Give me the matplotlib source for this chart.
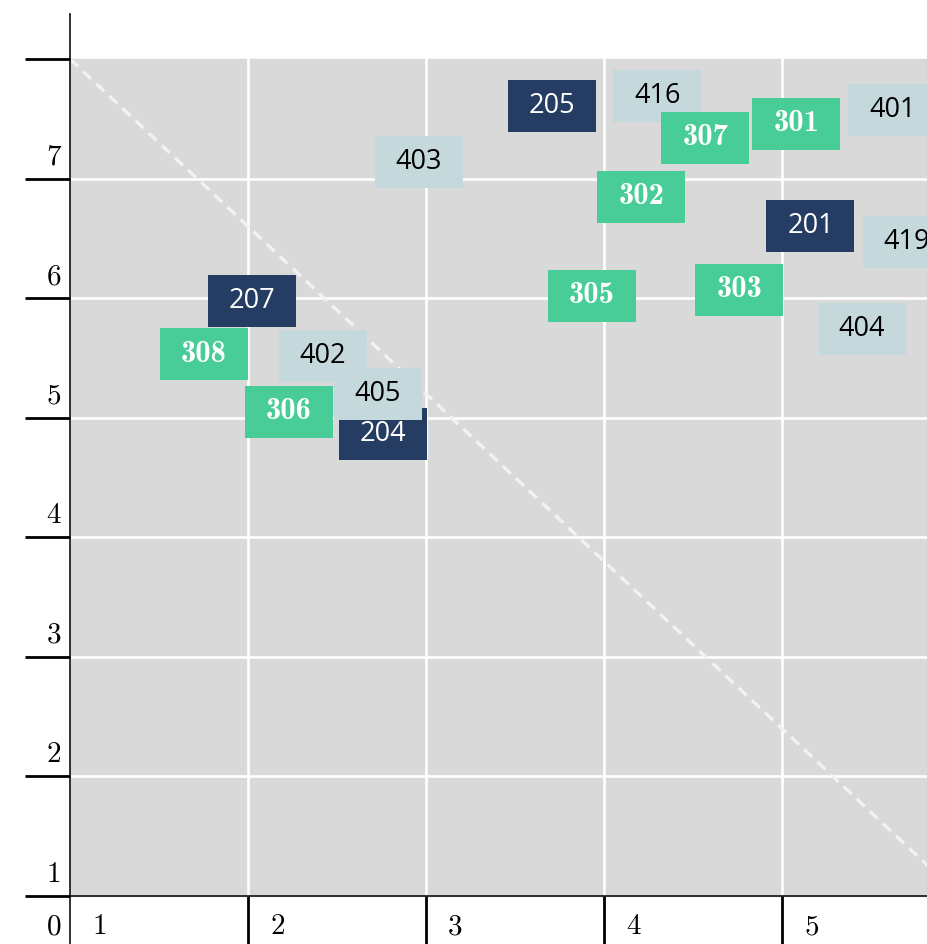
import numpy as np
from matplotlib import pyplot as plt
from matplotlib.patches import Rectangle

# room codes and their positions (x, y in chart units)
navy_codes = ['201', '204', '205', '207']
navy_x = [5.16, 2.76, 3.71, 2.02]
navy_y = [6.60, 4.86, 7.61, 5.98]

light_codes = ['401', '402', '403', '404', '405', '416', '419']
light_x = [5.62, 2.42, 2.96, 5.45, 2.73, 4.30, 5.70]
light_y = [7.57, 5.52, 7.14, 5.74, 5.20, 7.69, 6.47]

green_codes = ['301', '302', '303', '305', '306', '307', '308']
green_x = [5.08, 4.21, 4.76, 3.93, 2.23, 4.57, 1.75]
green_y = [7.46, 6.85, 6.07, 6.02, 5.05, 7.34, 5.53]

x_ticks = [1, 2, 3, 4, 5]
y_ticks = [1, 2, 3, 4, 5, 6, 7, 8]
x_labels = ['1', '2', '3', '4', '5']
y_labels = ['1', '2', '3', '4', '5', '6', '7']

W, H = 928, 945
px_x = 178.0    # pixels per x unit
px_y = 119.57   # pixels per y unit
x0, y0 = 70, 897  # pixel position of (1, 1)

xmin = 1 - x0 / px_x
xmax = 1 + (W - x0) / px_x
ymin = 1 - (H - y0) / px_y
ymax = 1 + y0 / px_y

fig = plt.figure(figsize=(W / 100, H / 100), dpi=100)
ax = fig.add_axes([0, 0, 1, 1])
ax.set_xlim(xmin, xmax)
ax.set_ylim(ymin, ymax)
ax.axis('off')

dx = 1 / px_x
dy = 1 / px_y

# background panel and grid
ax.add_patch(Rectangle((1, 1), xmax, 7, color='#d9d9d9', zorder=0))
for x in x_ticks[1:]:
    ax.plot([x, x], [1, 8], color='white', lw=1.9, zorder=1)
for y in y_ticks[1:-1]:
    ax.plot([1, xmax + 1], [y, y], color='white', lw=1.9, zorder=1)

# diagonal
ax.plot([1, 6], [8, 1], color='#f2f2f2', lw=2.4, ls=(0, (3.3, 2.1)), zorder=2)

# axes lines and ticks
ax.plot([1, 1], [ymin - 1, ymax - 15 * dy], color='#222222', lw=1.3, zorder=5)
ax.plot([1, xmax + 1], [1, 1], color='#222222', lw=1.3, zorder=5)
for y in y_ticks:
    ax.plot([1 - 45 * dx, 1], [y, y], color='black', lw=2, zorder=5,
            solid_capstyle='butt')
for x in x_ticks[1:]:
    ax.plot([x, x], [1, ymin - 1], color='black', lw=2, zorder=5,
            solid_capstyle='butt')

serif = 'cmr10'
for y, lab in zip(y_ticks, y_labels):
    ax.text(1 - 9 * dx, y + 15 * dy, lab, ha='right', va='baseline',
            fontsize=21, family=serif, zorder=6)
for x, lab in zip(x_ticks, x_labels):
    ax.text(x + 22 * dx, 1 - 30 * dy, lab, ha='left', va='center',
            fontsize=21, family=serif, zorder=6)
ax.text(1 - 9 * dx, 1 - 30 * dy, '0', ha='right', va='center',
        fontsize=21, family=serif, zorder=6)

bw = 88 * dx
bh = 52 * dy


def boxes(codes, xs, ys, face, tcolor, family, size, z):
    for c, x, y in zip(codes, xs, ys):
        ax.add_patch(Rectangle((x - bw / 2, y - bh / 2), bw, bh,
                               color=face, zorder=z, lw=0))
        ax.text(x, y + 1 * dy, c, ha='center', va='center', color=tcolor,
                family=family, fontsize=size, zorder=z + 0.5)


boxes(navy_codes, navy_x, navy_y, '#253d63', 'white', 'Open Sans', 19.5, 10)
boxes(light_codes, light_x, light_y, '#c5d9dc', 'black', 'Open Sans', 19.5, 12)
boxes(green_codes, green_x, green_y, '#48cd98', 'white', 'cmb10', 22, 14)

fig.savefig('out.png', dpi=100)
